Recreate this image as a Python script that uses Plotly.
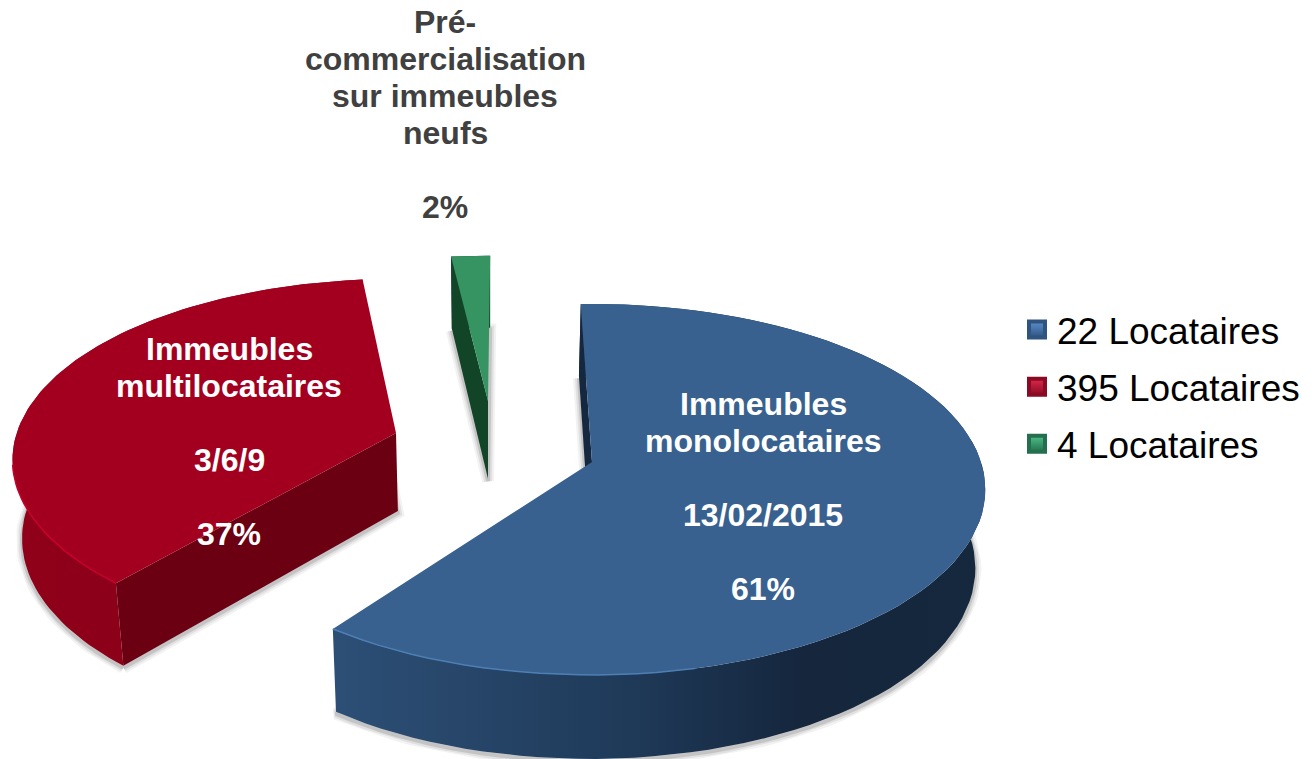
"""Exploded 3D-look pie of tenants by building type, drawn on pixel-like axes."""

import numpy as np
import plotly.graph_objects as go

# data
VALUES = [61, 37, 2]
LEGEND_NAMES = ["22 Locataires", "395 Locataires", "4 Locataires"]
LABEL_LINES = [
    ["Immeubles", "monolocataires", "", "13/02/2015", ""],
    ["Immeubles", "multilocataires", "", "3/6/9", ""],
    ["Pré-", "commercialisation", "sur immeubles", "neufs", ""],
]

# label placement
LABEL_X = [763, 229, 445]
LABEL_TOP = [404, 349, 22]
LABEL_STEP = 37
LABEL_COLOR = ["white", "white", "#404040"]
LABEL_SIZE = 32

# projection of the tilted disk
RX = 389
RY = 181.4
PERSP = 0.148
DEPTH = 78
DEPTH_TILT = 6
VANISH_X = 490
VANISH_RATE = 0.02

# where each exploded slice sits
APEX_X = [592, 396, 488]
APEX_Y = [462, 433, 401]
TURN = [-1.9, 1.4, 0.4]
END_TRIM = [1.8, 0, 0]  # perspective pulls the far edge in a little
SCALE = [1.0, 0.975, 0.92]

# colours
TOP = ["#38618f", "#a30020", "#359462"]
RIM = ["#4d7fb5", "#c8002c", "#359462"]
WALL = ["#162840", "#6b0013", "#124428"]
SIDE = [
    [[0, "#2d4f76"], [0.45, "#1f3a59"], [0.72, "#15263d"], [1, "#15283d"]],
    [[0, "#900019"], [0.6, "#880018"], [1, "#7c0015"]],
    [[0, "#124428"], [1, "#124428"]],
]
SWATCH = ["#5b8fcc", "#e0284c", "#4fc08a"]
SWATCH_DARK = ["#2f5480", "#8a0a24", "#24704e"]


def top_point(i, theta, r=1.0):
    s = 1 / (1 + PERSP * np.cos(theta) * r)
    x = APEX_X[i] + SCALE[i] * RX * r * np.sin(theta) * s
    y = APEX_Y[i] - SCALE[i] * RY * r * np.cos(theta) * s
    return x, y


def bottom_point(i, theta, r=1.0):
    x, y = top_point(i, theta, r)
    return x + (VANISH_X - x) * VANISH_RATE, y + DEPTH - DEPTH_TILT * r * np.cos(theta)


def poly(color, xs, ys, gradient=None):
    kw = dict(fillcolor=color)
    if gradient:
        kw = dict(fillgradient=dict(type="horizontal", colorscale=gradient))
    return go.Scatter(x=list(xs) + [xs[0]], y=list(ys) + [ys[0]], mode="lines", fill="toself",
                      line=dict(color="rgba(0,0,0,0)", width=0),
                      hoverinfo="skip", showlegend=False, **kw)


fig = go.Figure()

edges = np.cumsum([0] + VALUES) / sum(VALUES) * 2 * np.pi
for i in [1, 2, 0]:
    t0 = edges[i] + np.radians(TURN[i])
    t1 = edges[i + 1] + np.radians(TURN[i] - END_TRIM[i])
    arc = np.linspace(t0, t1, 90)
    tx, ty = top_point(i, arc)
    bx, by = bottom_point(i, arc)
    ax, ay = top_point(i, 0.0, 0.0)
    abx, aby = bottom_point(i, 0.0, 0.0)

    # soft shadow of the slice's underside
    for w, a in [(12, 0.05), (8, 0.07), (4, 0.12)]:
        fig.add_trace(go.Scatter(
            x=list(bx) + [abx, bx[0]], y=list(by + 2) + [aby + 2, by[0] + 2], mode="lines",
            line=dict(color=f"rgba(0,0,0,{a})", width=w), hoverinfo="skip", showlegend=False))

    fig.add_trace(poly(None, list(tx) + list(bx[::-1]), list(ty) + list(by[::-1]), gradient=SIDE[i]))
    # only the wall on the leading edge shows, the trailing one stays behind the top face
    fig.add_trace(poly(WALL[i], [tx[0], bx[0], abx, ax], [ty[0], by[0], aby, ay]))
    fig.add_trace(poly(TOP[i], [ax] + list(tx), [ay] + list(ty)))

    # lighter lip along the front of the top face
    front = arc[(np.cos(arc) < -0.15) & (np.sin(arc) < 0.25)]
    if i != 2 and len(front):
        rx, ry = top_point(i, front)
        fig.add_trace(go.Scatter(x=rx, y=ry, mode="lines", line=dict(color=RIM[i], width=1.5),
                                 hoverinfo="skip", showlegend=False))

for i, name in enumerate(LEGEND_NAMES):
    fig.add_trace(go.Scatter(
        x=[None], y=[None], mode="markers", name=name, legendgroup=name,
        marker=dict(symbol="square", size=16, color=SWATCH[i],
                    gradient=dict(type="vertical", color=SWATCH_DARK[i]),
                    line=dict(color=SWATCH_DARK[i], width=4))))

for i, lines in enumerate(LABEL_LINES):
    rows = lines + [f"{VALUES[i]}%"]
    for n, text in enumerate(rows):
        if not text:
            continue
        fig.add_annotation(x=LABEL_X[i], y=LABEL_TOP[i] + n * LABEL_STEP, text=f"<b>{text}</b>",
                           showarrow=False, xanchor="center", yanchor="middle",
                           font=dict(family="Liberation Sans", size=LABEL_SIZE, color=LABEL_COLOR[i]))

fig.update_layout(
    width=1314, height=759, margin=dict(l=0, r=0, t=0, b=0),
    paper_bgcolor="white", plot_bgcolor="white",
    xaxis=dict(range=[0, 1314], visible=False, fixedrange=True),
    yaxis=dict(range=[759, 0], visible=False, fixedrange=True),
    legend=dict(x=1017 / 1314, y=1 - 299 / 759, xanchor="left", yanchor="top",
                font=dict(family="Liberation Sans", size=37, color="black"),
                tracegroupgap=6, bgcolor="rgba(0,0,0,0)"),
)

fig.write_html("out.html", config=dict(displayModeBar=False),
               post_script="document.body.style.margin='0';")
